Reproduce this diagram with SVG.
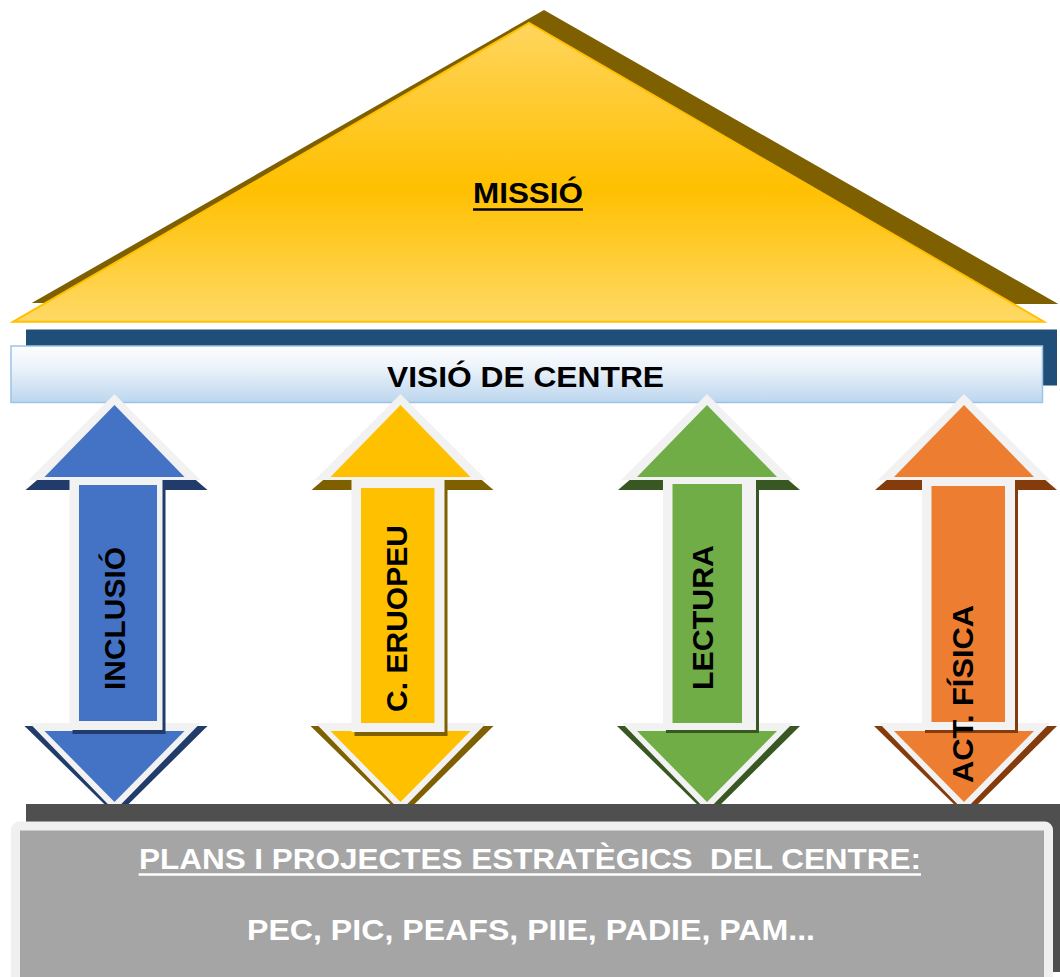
<svg xmlns="http://www.w3.org/2000/svg" width="1060" height="977" viewBox="0 0 1060 977">
  <defs>
    <linearGradient id="gTri" x1="0" y1="0" x2="0" y2="1">
      <stop offset="0" stop-color="#ffd55e"/>
      <stop offset="0.55" stop-color="#ffc000"/>
      <stop offset="1" stop-color="#ffd966"/>
    </linearGradient>
    <linearGradient id="gVis" x1="0" y1="0" x2="0" y2="1">
      <stop offset="0" stop-color="#fcfdff"/>
      <stop offset="0.35" stop-color="#eef4fa"/>
      <stop offset="1" stop-color="#bcd6ee"/>
    </linearGradient>
    <style>
      .t { font-family: "Liberation Sans", Arial, sans-serif; font-weight: bold; font-size: 30px; }
      .blk { fill: #000000; }
      .wht { fill: #ffffff; white-space: pre; }
      .wh { fill: #f2f2f2; }
      .blue .f { fill: #4472c4; } .blue .sh { fill: #213c6b; }
      .yel .f { fill: #ffc000; } .yel .sh { fill: #7f6000; }
      .grn .f { fill: #70ad47; } .grn .sh { fill: #385723; }
      .org .f { fill: #ed7d31; } .org .sh { fill: #843c0c; }
    </style>
  </defs>

  <rect width="1060" height="977" fill="#ffffff"/>

  <g id="missio">
    <polygon points="31.7,303 544,10 1058.3,304" fill="#7f6000"/>
    <polygon points="13.3,321.7 529,23 1044,321.7" fill="url(#gTri)" stroke="#ffc000" stroke-width="2" stroke-linejoin="miter"/>
    <text class="t blk" x="528" y="203" text-anchor="middle" textLength="110" lengthAdjust="spacingAndGlyphs">MISSIÓ</text>
    <line x1="473" y1="209.5" x2="583" y2="209.5" stroke="#000" stroke-width="2.5"/>
  </g>

  <g id="visio">
    <rect x="26" y="329.5" width="1031" height="56" fill="#1f4e79"/>
    <rect x="11" y="346" width="1031.5" height="56.5" fill="url(#gVis)" stroke="#9dc3e6" stroke-width="1.5"/>
    <text class="t blk" x="525.5" y="387" text-anchor="middle" textLength="277" lengthAdjust="spacingAndGlyphs" style="font-size:29px">VISIÓ DE CENTRE</text>
  </g>

  <g id="connectors">
    <g id="arrow-inclusio" class="blue" transform="translate(114.5,0)">
      <polygon class="sh" points="2,412 -89,490 93,490"/>
      <polygon class="sh" points="-90,726 93,726 2,816"/>
      <polygon class="wh" points="0,394 -86,480 86,480"/>
      <polygon class="f" points="0,405 -70,477 70,477"/>
      <polygon class="wh" points="-85,723 86,723 0,811"/>
      <polygon class="f" points="-70,731 70,731 0,802"/>
      <rect class="sh" x="-42" y="481" width="93" height="253"/>
      <rect class="wh" x="-45" y="478" width="93" height="252"/>
      <rect class="f" x="-35.5" y="485" width="78" height="236"/>
    </g>
    <g id="arrow-ceuropeu" class="yel" transform="translate(400.5,0)">
      <polygon class="sh" points="2,412 -89,490 93,490"/>
      <polygon class="sh" points="-90,726 93,726 2,816"/>
      <polygon class="wh" points="0,394 -86,480 86,480"/>
      <polygon class="f" points="0,405 -70,477 70,477"/>
      <polygon class="wh" points="-85,723 86,723 0,811"/>
      <polygon class="f" points="-70,731 70,731 0,802"/>
      <rect class="sh" x="-46" y="483" width="93" height="253"/>
      <rect class="wh" x="-49" y="480" width="93" height="252"/>
      <rect class="f" x="-39.5" y="488" width="73.5" height="235"/>
    </g>
    <g id="arrow-lectura" class="grn" transform="translate(707,0)">
      <polygon class="sh" points="2,412 -89,490 93,490"/>
      <polygon class="sh" points="-90,726 93,726 2,816"/>
      <polygon class="wh" points="0,394 -86,480 86,480"/>
      <polygon class="f" points="0,405 -70,477 70,477"/>
      <polygon class="wh" points="-85,723 86,723 0,811"/>
      <polygon class="f" points="-70,731 70,731 0,802"/>
      <rect class="sh" x="-41" y="480" width="93" height="253"/>
      <rect class="wh" x="-44" y="477" width="93" height="253"/>
      <rect class="f" x="-34.5" y="484" width="69.5" height="239"/>
    </g>
    <g id="arrow-actfisica" class="org" transform="translate(964,0)">
      <polygon class="sh" points="2,412 -89,490 93,490"/>
      <polygon class="sh" points="-90,726 93,726 2,816"/>
      <polygon class="wh" points="0,394 -86,480 86,480"/>
      <polygon class="f" points="0,405 -70,477 70,477"/>
      <polygon class="wh" points="-85,723 86,723 0,811"/>
      <polygon class="f" points="-70,731 70,731 0,802"/>
      <rect class="sh" x="-39" y="480" width="93" height="253"/>
      <rect class="wh" x="-42" y="477" width="93" height="253"/>
      <rect class="f" x="-32.5" y="486" width="73.5" height="236"/>
    </g>
  </g>

  <g id="label-inclusio">
    <text class="t blk" transform="translate(125,618.5) rotate(-90)" text-anchor="middle" textLength="143" lengthAdjust="spacingAndGlyphs">INCLUSIÓ</text>
  </g>
  <g id="label-ceuropeu">
    <text class="t blk" transform="translate(407,618.5) rotate(-90)" text-anchor="middle" textLength="187" lengthAdjust="spacingAndGlyphs">C. ERUOPEU</text>
  </g>
  <g id="label-lectura">
    <text class="t blk" transform="translate(712.6,617.5) rotate(-90)" text-anchor="middle" textLength="145" lengthAdjust="spacingAndGlyphs">LECTURA</text>
  </g>
  <g id="label-actfisica">
    <text class="t blk" transform="translate(973,694) rotate(-90)" text-anchor="middle" textLength="178" lengthAdjust="spacingAndGlyphs">ACT. FÍSICA</text>
  </g>

  <g id="plans">
    <rect x="26" y="804" width="1034" height="168" fill="#4f4f4f"/>
    <rect x="15.5" y="826" width="1033" height="170" rx="4" fill="#a5a5a5" stroke="#f0f0f0" stroke-width="9"/>
    <text class="t wht" x="530" y="869" text-anchor="middle" textLength="782" lengthAdjust="spacingAndGlyphs">PLANS I PROJECTES ESTRATÈGICS  DEL CENTRE:</text>
    <line x1="138.6" y1="874.5" x2="921" y2="874.5" stroke="#ffffff" stroke-width="2.5"/>
    <text class="t wht" x="531" y="940" text-anchor="middle" textLength="568" lengthAdjust="spacingAndGlyphs">PEC, PIC, PEAFS, PIIE, PADIE, PAM...</text>
  </g>
</svg>
